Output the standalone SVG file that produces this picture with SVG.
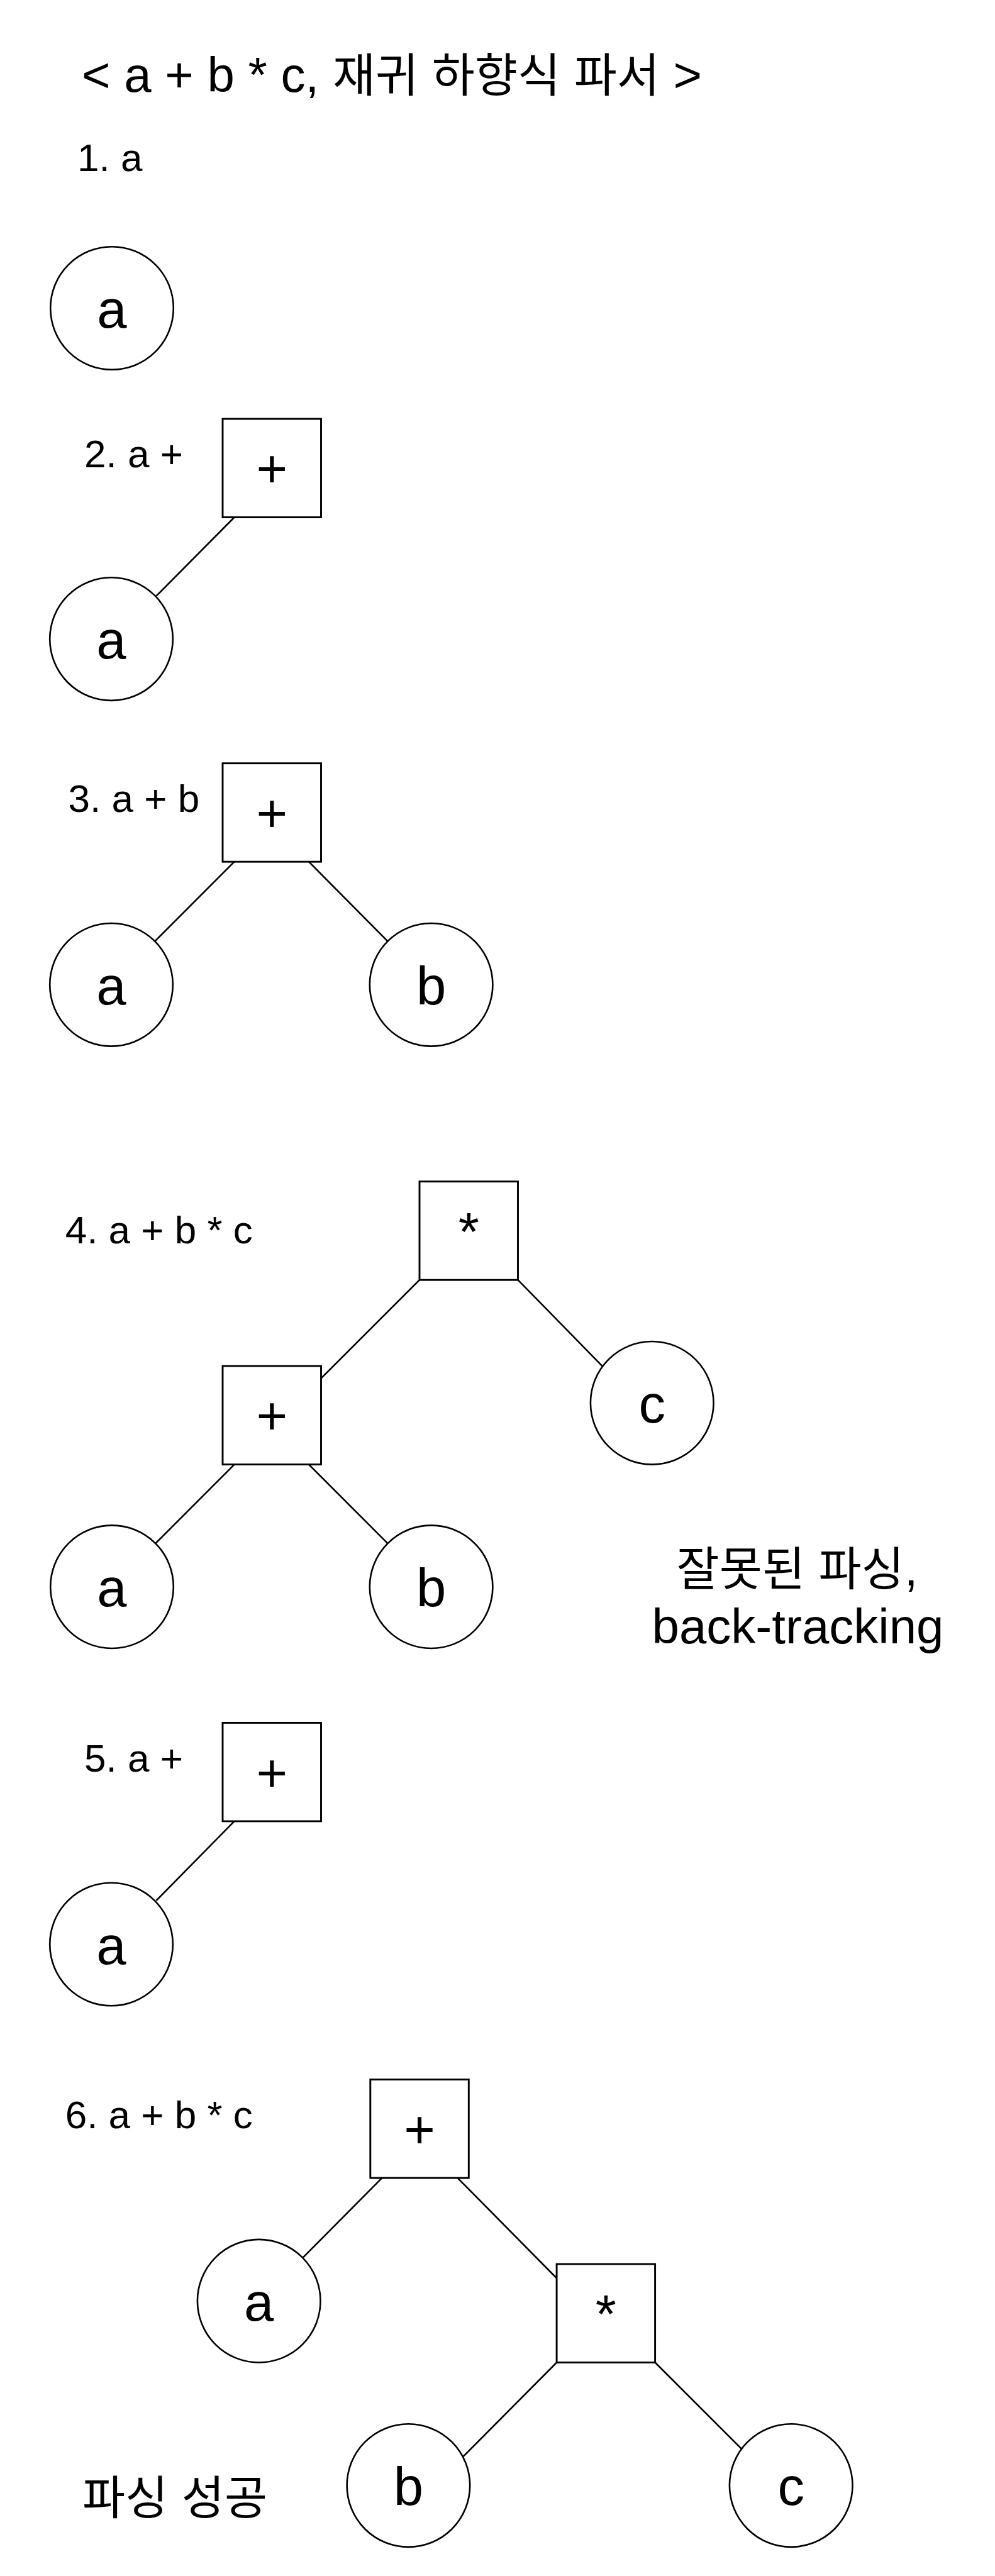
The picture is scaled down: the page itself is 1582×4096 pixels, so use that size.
<svg xmlns="http://www.w3.org/2000/svg" width="1582" height="4096" viewBox="0 0 1582 4096">
<style>
.bg{fill:#ffffff}
.box{fill:#ffffff;stroke:#000000;stroke-width:2.9}
.circ{fill:#ffffff;stroke:#000000;stroke-width:2.6}
.edge{stroke:#000000;stroke-width:2.6;fill:none}
.t{font-family:"Liberation Sans","Noto Sans CJK KR",sans-serif;fill:#000000}
.node{font-size:85px;text-anchor:middle}
.step{font-size:62px}
.big{font-size:78px}
.ko{font-size:74px}
</style>
<rect class="bg" x="0" y="0" width="1582" height="4096"/>
<text class="t big" x="130" y="145.7">&lt; a + b * c, <tspan class="ko">재귀</tspan> <tspan class="ko">하향식</tspan> <tspan class="ko">파서</tspan> &gt;</text>
<text class="t step" x="123" y="272">1. a</text>
<text class="t step" x="134" y="743">2. a +</text>
<text class="t step" x="108.6" y="1291.4">3. a + b</text>
<text class="t step" x="103.7" y="1976.5">4. a + b * c</text>
<text class="t step" x="134" y="2816.6">5. a +</text>
<text class="t step" x="103.7" y="3383.9">6. a + b * c</text>
<text class="t big" x="1267.5" y="2521" text-anchor="middle"><tspan class="ko">잘못된</tspan> <tspan class="ko">파싱</tspan>,</text>
<text class="t big" x="1268.5" y="2613" text-anchor="middle">back-tracking</text>
<text class="t big" x="131" y="3998"><tspan class="ko">파싱</tspan> <tspan class="ko">성공</tspan></text>
<g id="connectors">
<line class="edge" x1="372.6" y1="822.5" x2="248.4" y2="947.7"/>
<line class="edge" x1="372.6" y1="1370.2" x2="246.5" y2="1496.3"/>
<line class="edge" x1="491" y1="1370.2" x2="616.1" y2="1496.3"/>
<line class="edge" x1="667" y1="2035.2" x2="510.5" y2="2191.7"/>
<line class="edge" x1="823.5" y1="2035.2" x2="957.5" y2="2172.1"/>
<line class="edge" x1="372.6" y1="2328.6" x2="246.5" y2="2454.8"/>
<line class="edge" x1="491" y1="2328.6" x2="617.1" y2="2454.8"/>
<line class="edge" x1="372.6" y1="2895.9" x2="248.4" y2="3022"/>
<line class="edge" x1="607.3" y1="3463.1" x2="481.2" y2="3590.2"/>
<line class="edge" x1="727.6" y1="3463.1" x2="885.1" y2="3622.5"/>
<line class="edge" x1="885.1" y1="3756.5" x2="736.4" y2="3906.1"/>
<line class="edge" x1="1041.6" y1="3756.5" x2="1179.5" y2="3894.4"/>
</g>
<g id="s1-a"><circle class="circ" cx="178" cy="490" r="97.8"/><text class="t node" x="178" y="521">a</text></g>
<g id="s2-plus"><rect class="box" x="354" y="666" width="156.5" height="156.5"/><text class="t node" x="432.25" y="775">+</text></g>
<g id="s2-a"><circle class="circ" cx="177" cy="1016.1" r="97.8"/><text class="t node" x="177" y="1047">a</text></g>
<g id="s3-plus"><rect class="box" x="354" y="1213.7" width="156.5" height="156.5"/><text class="t node" x="432.25" y="1323">+</text></g>
<g id="s3-a"><circle class="circ" cx="177" cy="1565.8" r="97.8"/><text class="t node" x="177" y="1597">a</text></g>
<g id="s3-b"><circle class="circ" cx="685.6" cy="1565.8" r="97.8"/><text class="t node" x="685.6" y="1597">b</text></g>
<g id="s4-star"><rect class="box" x="667" y="1878.7" width="156.5" height="156.5"/><text class="t node" x="745.25" y="1988">*</text></g>
<g id="s4-plus"><rect class="box" x="354" y="2172.1" width="156.5" height="156.5"/><text class="t node" x="432.25" y="2281">+</text></g>
<g id="s4-c"><circle class="circ" cx="1036.7" cy="2230.8" r="97.8"/><text class="t node" x="1036.7" y="2262">c</text></g>
<g id="s4-a"><circle class="circ" cx="178" cy="2523.2" r="97.8"/><text class="t node" x="178" y="2554">a</text></g>
<g id="s4-b"><circle class="circ" cx="685.6" cy="2523.2" r="97.8"/><text class="t node" x="685.6" y="2554">b</text></g>
<g id="s5-plus"><rect class="box" x="354" y="2739.4" width="156.5" height="156.5"/><text class="t node" x="432.25" y="2849">+</text></g>
<g id="s5-a"><circle class="circ" cx="177" cy="3091.5" r="97.8"/><text class="t node" x="177" y="3122.5">a</text></g>
<g id="s6-plus"><rect class="box" x="588.8" y="3306.6" width="156.5" height="156.5"/><text class="t node" x="667.05" y="3416">+</text></g>
<g id="s6-star"><rect class="box" x="885.1" y="3600" width="156.5" height="156.5"/><text class="t node" x="963.35" y="3709">*</text></g>
<g id="s6-a"><circle class="circ" cx="411.7" cy="3658.7" r="97.8"/><text class="t node" x="411.7" y="3690">a</text></g>
<g id="s6-b"><circle class="circ" cx="649.4" cy="3952.1" r="97.8"/><text class="t node" x="649.4" y="3983">b</text></g>
<g id="s6-c"><circle class="circ" cx="1257.7" cy="3952.1" r="97.8"/><text class="t node" x="1257.7" y="3983">c</text></g>
</svg>
